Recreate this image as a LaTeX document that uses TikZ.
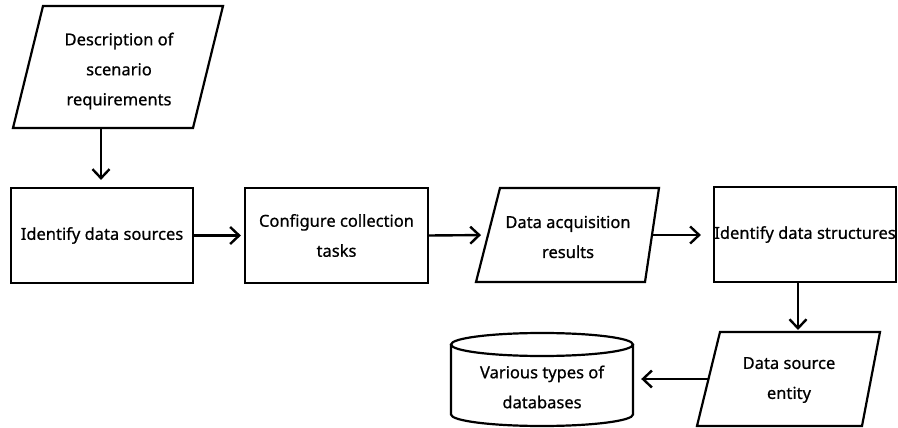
\documentclass[tikz,border=0pt]{standalone}
\usepackage{fontspec}
\setmainfont{Noto Sans}
\newfontfamily\medfont{Noto Sans}[FakeBold=0.7]
\usetikzlibrary{arrows.meta}
\begin{document}
\begin{tikzpicture}[x=1pt,y=-1pt,
  shapeline/.style={draw, line width=2.2pt, line join=miter},
  txt/.style={font=\medfont\fontsize{16.5pt}{30pt}\selectfont, align=center, inner sep=0pt},
  box/.style={shapeline, txt, minimum width=182pt, minimum height=95pt},
  arr/.style={draw, line width=2.4pt, -{Straight Barb[length=9pt,width=17pt]}}]
\useasboundingbox (0,0) rectangle (898,428);

% Parallelogram 1
\draw[shapeline] (43,6) -- (223,6) -- (193,128) -- (13,128) -- cycle;
\node[txt] (p1) at (119,71) {Description of\\scenario\\requirements};
\coordinate (p1s) at (101,128);

% Boxes
\node[box] (b1) at (102,235.5) {Identify data sources};
\node[box, minimum width=183pt] (b2) at (336.5,235.5) {Configure collection\\tasks};
\node[box] (b4) at (805,234.5) {Identify data structures};

% Parallelogram 2
\draw[shapeline] (500,188) -- (659,188) -- (645,282) -- (476,282) -- cycle;
\node[txt] (p2) at (568,237) {Data acquisition\\results};
\coordinate (p2w) at (488,235);
\coordinate (p2e) at (652,235);

% Parallelogram 3
\draw[shapeline] (720,332) -- (880,332) -- (862,426) -- (697,426) -- cycle;
\node[txt] (p3) at (789,380) {Data source\\entity};
\coordinate (p3n) at (798,332);
\coordinate (p3w) at (708.5,379);

% Cylinder
\draw[shapeline] (451,344.5) -- (451,414.5) arc[start angle=180,end angle=360,x radius=91pt,y radius=11.5pt] -- (633,344.5);
\draw[shapeline] (542,344.5) ellipse [x radius=91pt, y radius=11.5pt];
\node[minimum width=182pt, minimum height=93pt, inner sep=0pt] (db) at (542,379.5) {};
\node[txt] (dbt) at (542,387) {Various types of\\databases};

% Connectors
\draw[arr, shorten >=7pt] (p1s) -- (p1s |- b1.north);
\draw[arr, shorten >=3pt] (b1.east) -- (b2.west);
\draw[arr, shorten >=7pt] (b2.east) -- (p2w);
\draw[arr, shorten >=12pt] (p2e) -- (p2e -| b4.west);
\draw[arr, shorten >=2pt] (p3n |- b4.south) -- (p3n);
\draw[arr, shorten >=8pt] (p3w) -- (p3w -| db.east);
\end{tikzpicture}
\end{document}
